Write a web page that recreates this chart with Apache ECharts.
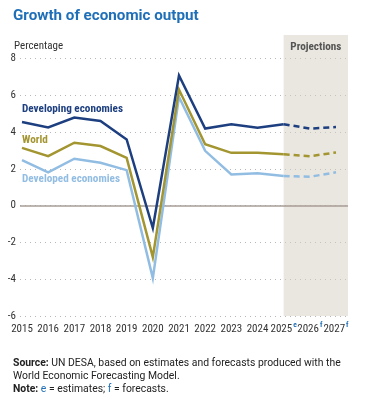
<!DOCTYPE html>
<html><head><meta charset="utf-8">
<script src="https://cdn.jsdelivr.net/npm/echarts@6/dist/echarts.min.js"></script>
<style>html,body{margin:0;padding:0;background:#fff}#c{width:373px;height:400px}</style>
</head><body><div id="c"></div>
<script>
const years = [2015,2016,2017,2018,2019,2020,2021,2022,2023,2024,2025,2026,2027];
const yearSuffix = ['','','','','','','','','','','e','f','f'];
const developing = [4.55,4.25,4.79,4.6,3.6,-1.22,7.08,4.19,4.43,4.23,4.43,4.19,4.27];
const world = [3.14,2.69,3.42,3.24,2.6,-2.8,6.31,3.34,2.87,2.87,2.79,2.69,2.89];
const developed = [2.48,1.81,2.55,2.33,1.93,-3.94,5.91,2.98,1.70,1.76,1.61,1.57,1.81];
const yTicks = [-6,-4,-2,0,2,4,6,8];
const projStart = 2025;
const xMin = 2014.924, xMax = 2027.459;

const C_DEV = '#1d3f80', C_WORLD = '#a39530', C_DVD = '#92bde3';
const NARROW = '"Liberation Sans Narrow", "Roboto Condensed", sans-serif';

function solid(vals){ return years.map((y,i)=> y<=projStart ? [y, vals[i]] : [y, null]); }
function dashed(vals){ return years.map((y,i)=> y>=projStart ? [y, vals[i]] : [y, null]); }

function lineSeries(name, vals, color, isDash, labelText, labelY){
  const s = {
    name, type:'line', data: isDash ? dashed(vals) : solid(vals),
    symbol:'none', smooth:false, connectNulls:false, z: 5,
    lineStyle:{color, width:2.5, type: isDash ? [6,4] : 'solid', cap:'butt', join:'miter'}
  };
  if (labelText){
    s.markPoint = {
      symbol:'circle', symbolSize:0, silent:true,
      data:[{coord:[years[0], labelY], value:labelText}],
      label:{show:true, position:[0,0], align:'left', verticalAlign:'middle',
        formatter: labelText, color, fontFamily: NARROW, fontWeight:'bold', fontSize:11.2}
    };
  }
  return s;
}

const chart = echarts.init(document.getElementById('c'), null, {renderer:'canvas'});
chart.setOption({
  animation:false,
  title:[
    {text:'Growth of economic output', left:8, top:4,
      textStyle:{color:'#1f6fb8', fontFamily:'Roboto, sans-serif', fontWeight:'bold', fontSize:15.2}},
    {text:'Percentage', left:9, top:36,
      textStyle:{color:'#333', fontFamily:NARROW, fontWeight:'normal', fontSize:11}},
    {text:'{b|Source:} UN DESA, based on estimates and forecasts produced with the\nWorld Economic Forecasting Model.\n{b|Note:} {c|e} = estimates; {c|f} = forecasts.',
      left:8, top:352,
      textStyle:{color:'#222', fontFamily:'Roboto, sans-serif', fontSize:10.4, fontWeight:'normal', lineHeight:13,
        rich:{b:{fontWeight:'bold', fontFamily:'Roboto, sans-serif', fontSize:10.4, color:'#222', lineHeight:13},
              c:{color:'#1f6fb8', fontFamily:'Roboto, sans-serif', fontSize:10.4, lineHeight:13}}}}
  ],
  grid:{left:20, right:25, top:58.5, bottom:84, containLabel:false},
  xAxis:{type:'value', min:xMin, max:xMax,
    axisLine:{show:false}, axisTick:{show:false}, splitLine:{show:false},
    axisLabel:{customValues:years, margin:5, color:'#333', fontFamily:NARROW, fontSize:11,
      formatter:(v)=>{ const i = years.indexOf(Math.round(v)); const s = yearSuffix[i]; return s ? '{n|'+v+'}{s|'+s+'}' : '{n|'+v+'}'; },
      rich:{
        n:{color:'#333', fontSize:11, fontFamily:NARROW, lineHeight:14, verticalAlign:'bottom'},
        s:{color:'#1f6fb8', fontSize:7.5, fontFamily:NARROW, fontWeight:'bold', lineHeight:7, verticalAlign:'top', padding:[0,0,0,1]}}}
  },
  yAxis:{type:'value', min:-6, max:8, interval:2,
    axisLine:{show:false}, axisTick:{show:false},
    axisLabel:{color:'#333', fontFamily:NARROW, fontSize:11, margin:4},
    splitLine:{show:true, lineStyle:{color:'#b8b8b8', type:[1,4], width:1}}
  },
  series:[
    {type:'line', data:[], clip:false, z:1,
      markArea:{silent:true, itemStyle:{color:'rgba(214,206,194,0.5)'},
        label:{show:true, position:'insideTop', distance:7, color:'#555', fontFamily:NARROW, fontWeight:'bold', fontSize:11.2},
        data:[[{name:'Projections', xAxis:projStart, y:35},{xAxis:xMax, yAxis:-6}]]},
      markLine:{silent:true, symbol:'none', label:{show:false},
        lineStyle:{color:'#a79e96', width:1.6, type:'solid'},
        data:[{yAxis:0}]}
    },
    lineSeries('Developed economies', developed, C_DVD, false, 'Developed economies', 1.45),
    lineSeries('Developed economies proj', developed, C_DVD, true),
    lineSeries('World', world, C_WORLD, false, 'World', 3.57),
    lineSeries('World proj', world, C_WORLD, true),
    lineSeries('Developing economies', developing, C_DEV, false, 'Developing economies', 5.25),
    lineSeries('Developing economies proj', developing, C_DEV, true)
  ]
});
</script></body></html>
